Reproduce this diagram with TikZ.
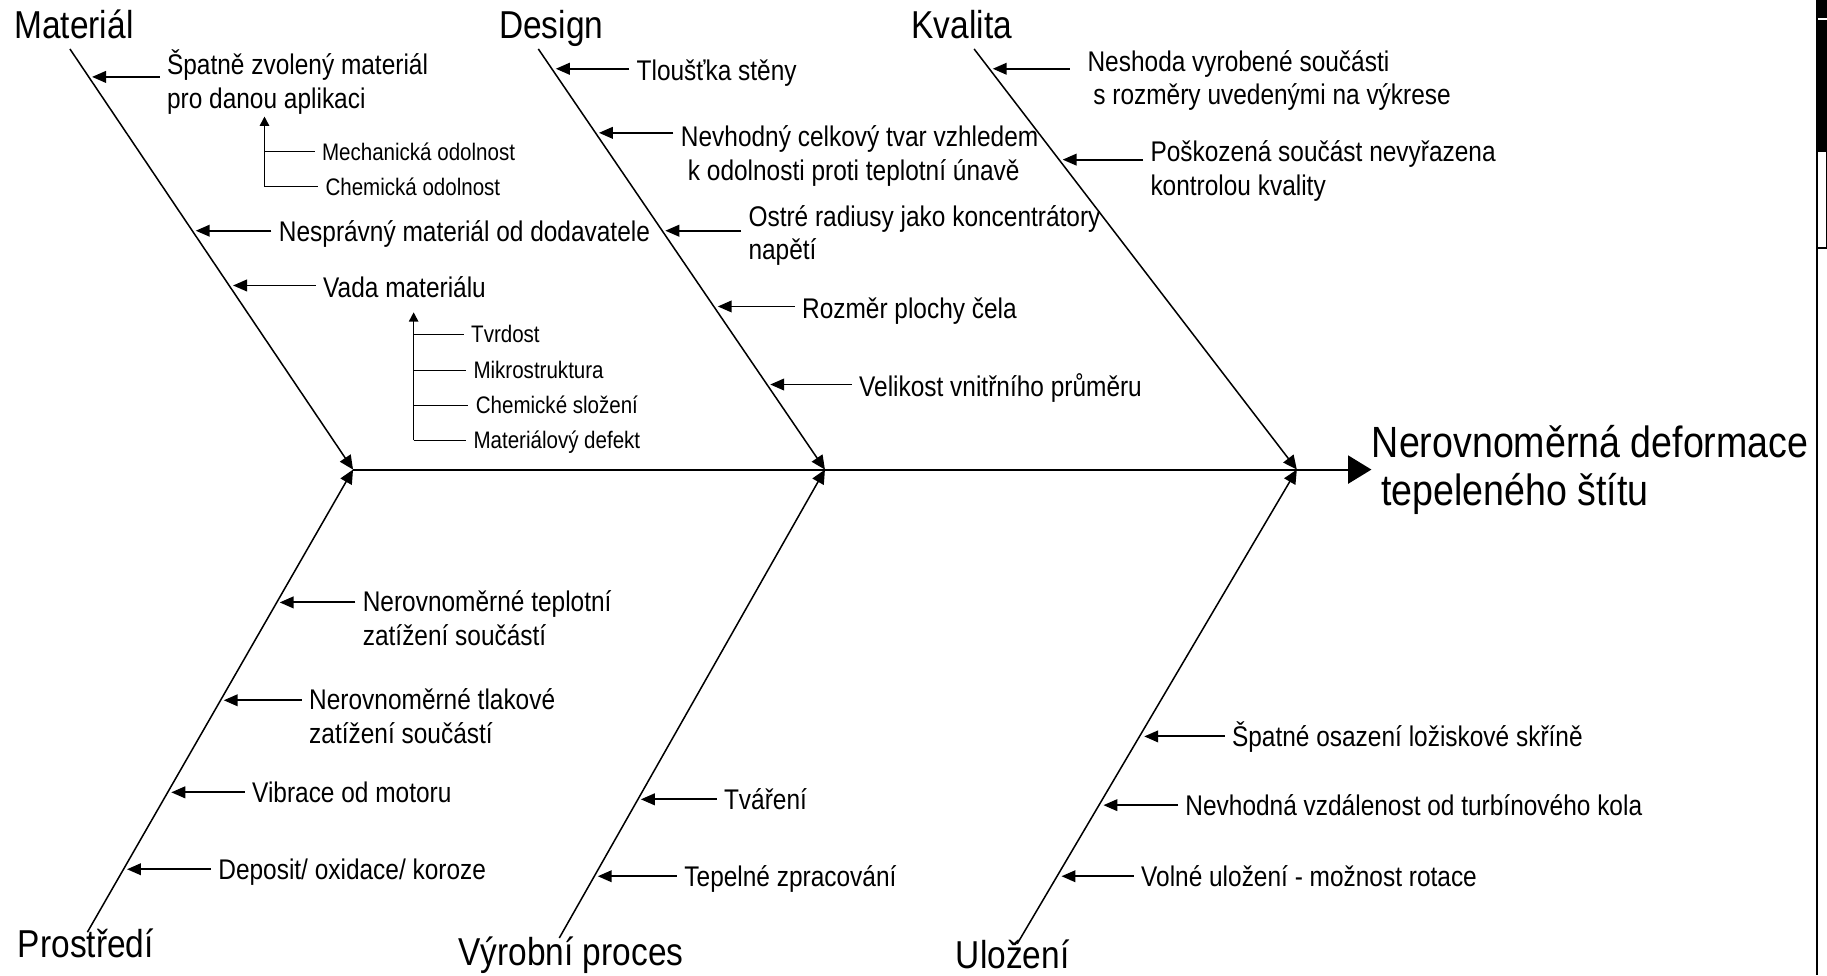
\documentclass[tikz,border=0pt]{standalone}
\usepackage{fontspec}
\setmainfont[FakeStretch=0.86]{Liberation Sans}
\usetikzlibrary{arrows.meta}

% two-line label whose baseline is that of the first line
\newcommand{\twolines}[2]{\begin{tabular}[t]{@{}l@{}}#1\\#2\end{tabular}}

\tikzset{
  bone/.style={line width=0.65pt},
  bonearrow/.style={bone, -{Triangle[length=6pt,width=5.5pt]}},
  spine/.style={line width=0.9pt, -{Triangle[length=10pt,width=12pt]}},
  cause/.style={line width=0.8pt, -{Triangle[length=6pt,width=5pt]}},
  trunk/.style={line width=0.7pt, -{Triangle[length=4pt,width=4pt]}},
  branch/.style={line width=0.7pt},
  cat/.style={font=\fontsize{16.7}{20}\selectfont, inner sep=0pt, anchor=base west},
  txt/.style={font=\fontsize{12.2}{14.5}\selectfont, inner xsep=3pt, inner ysep=1pt, anchor=base west},
  small/.style={font=\fontsize{10.25}{12}\selectfont, inner xsep=3pt, inner ysep=1pt, anchor=base west},
  effect/.style={font=\fontsize{18.75}{20.5}\selectfont, inner sep=0pt, anchor=base west}
}

\begin{document}
\begin{tikzpicture}[x=0.5pt,y=-0.5pt]
\useasboundingbox (0,0) rectangle (1568,837);

% ---------- joints on the spine and ends of the bones ----------
\coordinate (J1) at (303,403);
\coordinate (J2) at (708,403);
\coordinate (J3) at (1113,403);
\coordinate (mT) at (60,42);
\coordinate (dT) at (462,42);
\coordinate (kT) at (836,42);
\coordinate (pB) at (75,800);
\coordinate (vB) at (480,805);
\coordinate (uB) at (873,810);

% ---------- category labels ----------
\node[cat] (catM) at (12,33) {Materiál};
\node[cat] (catD) at (428,33) {Design};
\node[cat] (catK) at (782,33) {Kvalita};
\node[cat] (catP) at (15,822) {Prostředí};
\node[cat] (catV) at (393,829) {Výrobní proces};
\node[cat] (catU) at (820,831) {Uložení};

% ---------- effect ----------
\node[effect] (eff) at (1177,393) {\twolines{Nerovnoměrná deformace}{\hspace*{4pt}tepeleného štítu}};

% ---------- spine and bones ----------
\draw[spine] (J1) -- (J1 -| eff.west);
\draw[bonearrow] (mT) -- (J1);
\draw[bonearrow] (dT) -- (J2);
\draw[bonearrow] (kT) -- (J3);
\draw[bonearrow] (pB) -- (J1);
\draw[bonearrow] (vB) -- (J2);
\draw[bonearrow] (uB) -- (J3);

% ---------- Materiál ----------
\coordinate (m1) at (79,66);
\coordinate (m2) at (168,198);
\coordinate (m3) at (200,245);
\node[txt] (m1t) at (137,64) {\twolines{Špatně zvolený materiál}{pro danou aplikaci}};
\node[txt] (m2t) at (233,207) {Nesprávný materiál od dodavatele};
\node[txt] (m3t) at (271,255) {Vada materiálu};
\draw[cause] (m1 -| m1t.west) -- (m1);
\draw[cause] (m2 -| m2t.west) -- (m2);
\draw[cause] (m3 -| m3t.west) -- (m3);

% sub-causes of the first Materiál cause
\coordinate (aTop) at (227,100);
\coordinate (aB1) at (227,130);
\coordinate (aB2) at (227,160);
\node[small] (a1) at (270,138) {Mechanická odolnost};
\node[small] (a2) at (273,168) {Chemická odolnost};
\draw[trunk] (aB2) -- (aTop);
\draw[branch] (aB1) -- (aB1 -| a1.west);
\draw[branch] (aB2) -- (aB2 -| a2.west);

% sub-causes of Vada materiálu
\coordinate (bTop) at (355,268);
\coordinate (bB1) at (355,287);
\coordinate (bB2) at (355,318);
\coordinate (bB3) at (355,348);
\coordinate (bB4) at (355,378);
\node[small] (b1) at (398,294) {Tvrdost};
\node[small] (b2) at (400,325) {Mikrostruktura};
\node[small] (b3) at (402,355) {Chemické složení};
\node[small] (b4) at (400,385) {Materiálový defekt};
\draw[trunk] (bB4) -- (bTop);
\draw[branch] (bB1) -- (bB1 -| b1.west);
\draw[branch] (bB2) -- (bB2 -| b2.west);
\draw[branch] (bB3) -- (bB3 -| b3.west);
\draw[branch] (bB4) -- (bB4 -| b4.west);

% ---------- Design ----------
\coordinate (d1) at (477,59);
\coordinate (d2) at (514,114);
\coordinate (d3) at (571,198);
\coordinate (d4) at (616,263);
\coordinate (d5) at (661,330);
\node[txt] (d1t) at (540,69) {Tloušťka stěny};
\node[txt] (d2t) at (578,126) {\twolines{Nevhodný celkový tvar vzhledem}{\hspace*{3pt}k odolnosti proti teplotní únavě}};
\node[txt] (d3t) at (636,194) {\twolines{Ostré radiusy jako koncentrátory}{napětí}};
\node[txt] (d4t) at (682,273) {Rozměr plochy čela};
\node[txt] (d5t) at (731,340) {Velikost vnitřního průměru};
\draw[cause] (d1 -| d1t.west) -- (d1);
\draw[cause] (d2 -| d2t.west) -- (d2);
\draw[cause] (d3 -| d3t.west) -- (d3);
\draw[cause] (d4 -| d4t.west) -- (d4);
\draw[cause] (d5 -| d5t.west) -- (d5);

% ---------- Kvalita ----------
\coordinate (k1) at (852,59);
\coordinate (k2) at (912,137);
\node[txt, inner xsep=7.5pt] (k1t) at (918,61) {\twolines{Neshoda vyrobené součásti}{\hspace*{2.5pt}s rozměry uvedenými na výkrese}};
\node[txt] (k2t) at (981,139) {\twolines{Poškozená součást nevyřazena}{kontrolou kvality}};
\draw[cause] (k1 -| k1t.west) -- (k1);
\draw[cause] (k2 -| k2t.west) -- (k2);

% ---------- Prostředí ----------
\coordinate (p1) at (240,517);
\coordinate (p2) at (192,601);
\coordinate (p3) at (147,680);
\coordinate (p4) at (109,746);
\node[txt] (p1t) at (305,525) {\twolines{Nerovnoměrné teplotní}{zatížení součástí}};
\node[txt] (p2t) at (259,609) {\twolines{Nerovnoměrné tlakové}{zatížení součástí}};
\node[txt] (p3t) at (210,689) {Vibrace od motoru};
\node[txt] (p4t) at (181,755) {Deposit/ oxidace/ koroze};
\draw[cause] (p1 -| p1t.west) -- (p1);
\draw[cause] (p2 -| p2t.west) -- (p2);
\draw[cause] (p3 -| p3t.west) -- (p3);
\draw[cause] (p4 -| p4t.west) -- (p4);

% ---------- Výrobní proces ----------
\coordinate (v1) at (550,686);
\coordinate (v2) at (513,752);
\node[txt] (v1t) at (615,695) {Tváření};
\node[txt] (v2t) at (581,761) {Tepelné zpracování};
\draw[cause] (v1 -| v1t.west) -- (v1);
\draw[cause] (v2 -| v2t.west) -- (v2);

% ---------- Uložení ----------
\coordinate (u1) at (982,632);
\coordinate (u2) at (947,691);
\coordinate (u3) at (911,752);
\node[txt] (u1t) at (1051,641) {Špatné osazení ložiskové skříně};
\node[txt] (u2t) at (1011,700) {Nevhodná vzdálenost od turbínového kola};
\node[txt] (u3t) at (973,761) {Volné uložení - možnost rotace};
\draw[cause] (u1 -| u1t.west) -- (u1);
\draw[cause] (u2 -| u2t.west) -- (u2);
\draw[cause] (u3 -| u3t.west) -- (u3);

% ---------- page margin strip at the right ----------
\fill (1559.5,0) rectangle (1568,130);
\draw[white, line width=0.8pt] (1560,16) -- (1568,16);
\draw[line width=0.6pt] (1559.5,130) rectangle (1568,213);
\draw[line width=0.6pt] (1559.5,0) -- (1559.5,837);
\end{tikzpicture}
\end{document}
